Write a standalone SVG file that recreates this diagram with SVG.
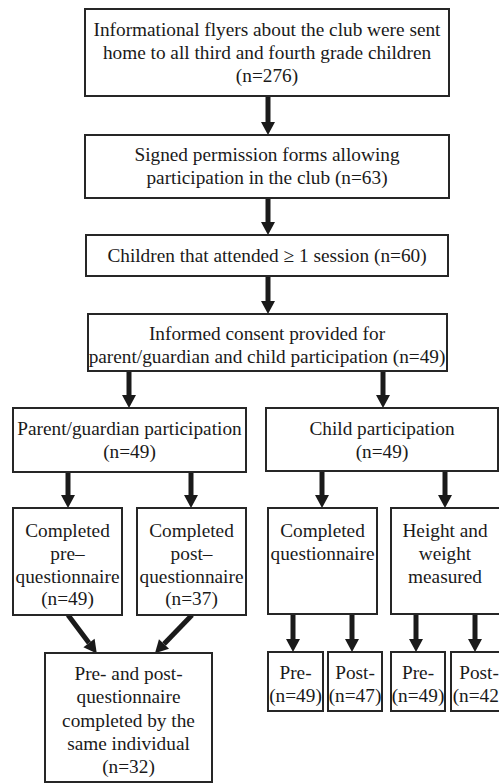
<svg xmlns="http://www.w3.org/2000/svg" width="499" height="784" viewBox="0 0 499 784">
<style>
.box{fill:#fff;stroke:#262626;stroke-width:2}
.t{font-family:"Liberation Serif","Times New Roman",serif;font-size:19.3px;fill:#1a1a1a;text-anchor:middle}
.c{stroke:#1a1a1a;stroke-width:5;fill:none}
</style>
<defs>
<marker id="ah" markerUnits="userSpaceOnUse" markerWidth="14" markerHeight="15" refX="0" refY="7" orient="auto" overflow="visible">
<path d="M0,0 L13,7 L0,14 z" fill="#1a1a1a"/>
</marker>
</defs>
<rect width="499" height="784" fill="#fff"/>
<g id="connectors">
<line class="c" x1="268" y1="96" x2="268" y2="122" marker-end="url(#ah)"/>
<line class="c" x1="268" y1="198" x2="268" y2="222" marker-end="url(#ah)"/>
<line class="c" x1="268" y1="276" x2="268" y2="301" marker-end="url(#ah)"/>
<line class="c" x1="129" y1="371" x2="129" y2="395" marker-end="url(#ah)"/>
<line class="c" x1="383" y1="371" x2="383" y2="395" marker-end="url(#ah)"/>
<line class="c" x1="68" y1="472" x2="68" y2="495" marker-end="url(#ah)"/>
<line class="c" x1="191" y1="472" x2="191" y2="495" marker-end="url(#ah)"/>
<line class="c" x1="322" y1="471" x2="322" y2="495" marker-end="url(#ah)"/>
<line class="c" x1="445" y1="471" x2="445" y2="495" marker-end="url(#ah)"/>
<line class="c" x1="68" y1="615" x2="89" y2="643" marker-end="url(#ah)"/>
<line class="c" x1="192" y1="615" x2="164" y2="644" marker-end="url(#ah)"/>
<line class="c" x1="293" y1="614" x2="293" y2="639" marker-end="url(#ah)"/>
<line class="c" x1="352" y1="614" x2="352" y2="639" marker-end="url(#ah)"/>
<line class="c" x1="416" y1="614" x2="416" y2="639" marker-end="url(#ah)"/>
<line class="c" x1="475" y1="614" x2="475" y2="639" marker-end="url(#ah)"/>
</g>
<g id="flyers">
<rect class="box" x="85" y="9" width="364" height="87"/>
<text class="t" x="267" y="36">Informational flyers about the club were sent</text>
<text class="t" x="267" y="59">home to all third and fourth grade children</text>
<text class="t" x="267" y="82">(n=276)</text>
</g>
<g id="permission">
<rect class="box" x="85" y="135" width="364" height="63"/>
<text class="t" x="267" y="161">Signed permission forms allowing</text>
<text class="t" x="267" y="184">participation in the club (n=63)</text>
</g>
<g id="attended">
<rect class="box" x="86" y="235" width="362" height="41"/>
<text class="t" x="267" y="262">Children that attended ≥ 1 session (n=60)</text>
</g>
<g id="consent">
<rect class="box" x="88" y="314" width="359" height="57"/>
<text class="t" x="267" y="340">Informed consent provided for</text>
<text class="t" x="267" y="363">parent/guardian and child participation (n=49)</text>
</g>
<g id="parent">
<rect class="box" x="13" y="408" width="233" height="64"/>
<text class="t" x="129.5" y="435">Parent/guardian participation</text>
<text class="t" x="129.5" y="458">(n=49)</text>
</g>
<g id="child">
<rect class="box" x="266" y="408" width="232" height="63"/>
<text class="t" x="382" y="435">Child participation</text>
<text class="t" x="382" y="458">(n=49)</text>
</g>
<g id="parent-pre">
<rect class="box" x="13" y="508" width="109" height="107"/>
<text class="t" x="67.5" y="537">Completed</text>
<text class="t" x="67.5" y="560">pre–</text>
<text class="t" x="67.5" y="583">questionnaire</text>
<text class="t" x="67.5" y="605">(n=49)</text>
</g>
<g id="parent-post">
<rect class="box" x="137" y="508" width="109" height="107"/>
<text class="t" x="191.5" y="537">Completed</text>
<text class="t" x="191.5" y="560">post–</text>
<text class="t" x="191.5" y="583">questionnaire</text>
<text class="t" x="191.5" y="605">(n=37)</text>
</g>
<g id="child-questionnaire">
<rect class="box" x="268" y="508" width="109" height="106"/>
<text class="t" x="322.5" y="537">Completed</text>
<text class="t" x="322.5" y="560">questionnaire</text>
</g>
<g id="child-measured">
<rect class="box" x="391" y="508" width="110" height="106"/>
<text class="t" x="445" y="537">Height and</text>
<text class="t" x="445" y="560">weight</text>
<text class="t" x="445" y="583">measured</text>
</g>
<g id="q-pre">
<rect class="box" x="268" y="652" width="55" height="59"/>
<text class="t" x="295.5" y="679">Pre-</text>
<text class="t" x="295.5" y="702">(n=49)</text>
</g>
<g id="q-post">
<rect class="box" x="328" y="652" width="54" height="59"/>
<text class="t" x="355" y="679">Post-</text>
<text class="t" x="355" y="702">(n=47)</text>
</g>
<g id="m-pre">
<rect class="box" x="391" y="652" width="54" height="59"/>
<text class="t" x="418" y="679">Pre-</text>
<text class="t" x="418" y="702">(n=49)</text>
</g>
<g id="m-post">
<rect class="box" x="451" y="652" width="55" height="59"/>
<text class="t" x="479" y="679">Post-</text>
<text class="t" x="479" y="702">(n=42)</text>
</g>
<g id="same-individual">
<rect class="box" x="45" y="653" width="167" height="129"/>
<text class="t" x="128.5" y="680">Pre- and post-</text>
<text class="t" x="128.5" y="703">questionnaire</text>
<text class="t" x="128.5" y="727">completed by the</text>
<text class="t" x="128.5" y="750">same individual</text>
<text class="t" x="128.5" y="773">(n=32)</text>
</g>
</svg>
